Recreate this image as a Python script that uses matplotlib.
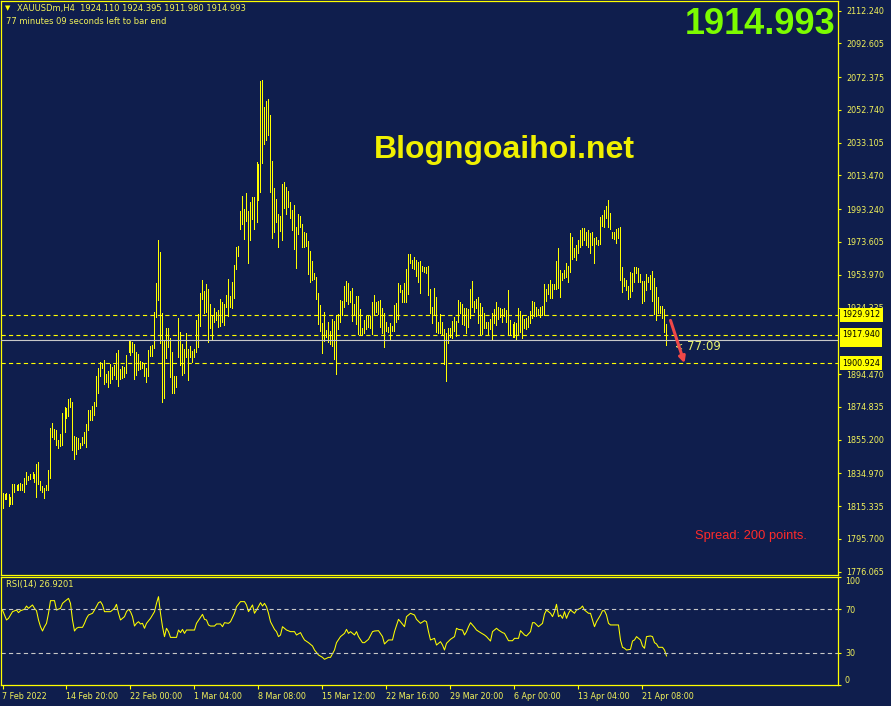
import matplotlib
matplotlib.use("Agg")
from matplotlib import pyplot as plt
from matplotlib import transforms
import numpy as np

# header / quote info
symbol = "XAUUSDm,H4"
ohlc = [1924.110, 1924.395, 1911.980, 1914.993]
bid = 1914.993
levels = [1929.912, 1917.940, 1900.924]
timer = "77:09"
spread = 200

# H4 bars, high / low per bar
highs = [
    1823.4, 1822.8, 1823.4, 1822.8, 1821.0, 1828.8, 1828.8, 1828.2, 1828.8, 1829.4,
    1828.8, 1832.4, 1836.0, 1833.6, 1834.8, 1836.0, 1834.8, 1840.8, 1842.0, 1830.6,
    1827.6, 1826.4, 1828.2, 1837.2, 1862.4, 1865.4, 1861.8, 1861.2, 1855.2, 1858.8,
    1871.4, 1874.4, 1873.8, 1879.2, 1879.8, 1877.4, 1857.6, 1857.0, 1856.4, 1853.4,
    1857.0, 1860.0, 1864.8, 1872.6, 1872.6, 1875.0, 1877.4, 1893.0, 1897.8, 1901.4,
    1900.8, 1902.6, 1894.2, 1896.0, 1900.2, 1898.4, 1899.6, 1906.8, 1908.6, 1897.2,
    1899.0, 1898.4, 1905.6, 1914.6, 1914.0, 1913.4, 1912.2, 1907.4, 1906.2, 1902.0,
    1901.4, 1900.2, 1897.8, 1908.6, 1911.0, 1911.6, 1931.4, 1948.8, 1974.6, 1967.4,
    1930.8, 1914.0, 1921.8, 1921.8, 1915.8, 1907.4, 1893.0, 1893.0, 1927.8, 1919.4,
    1912.2, 1909.2, 1918.8, 1909.2, 1911.0, 1908.0, 1909.2, 1926.6, 1930.2, 1942.8,
    1950.6, 1944.0, 1948.2, 1945.2, 1936.2, 1929.0, 1933.8, 1931.4, 1932.6, 1939.2,
    1937.4, 1936.2, 1941.6, 1951.2, 1941.0, 1949.4, 1959.6, 1970.4, 1971.0, 1992.0,
    2001.0, 1993.2, 2002.8, 1992.0, 1997.4, 2000.4, 2000.4, 2021.4, 2020.2, 2070.0,
    2070.6, 2054.4, 2058.0, 2059.2, 2049.6, 2022.0, 2005.8, 1999.2, 1990.2, 1989.0,
    2008.2, 2009.4, 2006.4, 2004.0, 1997.4, 1992.6, 1995.6, 1982.4, 1990.2, 1989.0,
    1984.2, 1979.4, 1978.8, 1974.0, 1968.0, 1962.0, 1954.8, 1952.4, 1942.8, 1935.6,
    1924.8, 1931.4, 1920.6, 1925.4, 1920.0, 1927.2, 1926.0, 1929.6, 1930.2, 1938.6,
    1938.0, 1947.0, 1950.0, 1948.8, 1944.0, 1945.8, 1936.2, 1941.0, 1941.0, 1933.2,
    1921.8, 1926.6, 1929.0, 1929.0, 1929.0, 1937.4, 1941.6, 1937.4, 1938.0, 1938.6,
    1933.8, 1930.8, 1925.4, 1922.4, 1924.8, 1923.0, 1935.6, 1936.8, 1948.8, 1947.6,
    1944.6, 1948.8, 1957.2, 1966.2, 1966.2, 1962.6, 1964.4, 1962.6, 1961.4, 1962.0,
    1959.0, 1958.4, 1958.4, 1959.0, 1945.2, 1934.4, 1945.8, 1940.4, 1925.4, 1930.2,
    1925.4, 1921.2, 1918.8, 1921.8, 1921.8, 1926.0, 1928.4, 1926.0, 1938.6, 1937.4,
    1936.2, 1933.8, 1933.8, 1933.2, 1945.2, 1950.0, 1938.0, 1939.2, 1940.4, 1936.8,
    1934.4, 1930.8, 1925.4, 1925.4, 1927.2, 1930.8, 1933.2, 1937.4, 1934.4, 1933.8,
    1933.2, 1933.8, 1932.6, 1944.6, 1926.6, 1924.2, 1925.4, 1924.8, 1933.8, 1932.0,
    1929.6, 1927.2, 1927.8, 1929.0, 1932.0, 1938.0, 1937.4, 1934.4, 1933.2, 1934.4,
    1935.0, 1948.2, 1945.2, 1948.2, 1950.6, 1948.2, 1948.2, 1962.0, 1969.8, 1956.6,
    1954.8, 1956.6, 1960.8, 1959.0, 1978.8, 1976.4, 1969.8, 1971.6, 1974.6, 1980.6,
    1981.8, 1981.8, 1979.4, 1980.6, 1978.8, 1979.4, 1975.8, 1976.4, 1974.6, 1988.4,
    1989.6, 1992.6, 1995.0, 1998.6, 1990.8, 1979.4, 1979.4, 1981.2, 1981.8, 1982.4,
    1958.4, 1951.8, 1950.6, 1947.0, 1955.4, 1954.8, 1958.4, 1958.4, 1957.8, 1954.2,
    1950.0, 1950.0, 1954.2, 1952.4, 1953.6, 1956.0, 1951.8, 1946.4, 1940.4, 1935.0,
    1935.0, 1933.2, 1924.395]

lows = [
    1814.4, 1819.8, 1819.8, 1815.6, 1816.8, 1816.8, 1824.0, 1825.2, 1825.2, 1825.2,
    1825.2, 1824.0, 1828.8, 1831.2, 1831.8, 1832.4, 1830.0, 1821.0, 1828.8, 1825.2,
    1824.0, 1820.4, 1825.2, 1825.2, 1832.4, 1857.0, 1855.8, 1852.2, 1850.4, 1851.6,
    1852.2, 1860.0, 1868.4, 1869.6, 1874.4, 1849.2, 1843.8, 1846.8, 1849.8, 1850.4,
    1852.2, 1853.4, 1851.0, 1861.2, 1867.2, 1867.2, 1870.2, 1875.0, 1882.8, 1893.0,
    1897.8, 1888.2, 1889.4, 1886.4, 1888.8, 1891.2, 1893.6, 1891.2, 1887.0, 1891.2,
    1891.8, 1892.4, 1894.8, 1907.4, 1905.6, 1907.4, 1891.2, 1893.6, 1896.6, 1897.2,
    1897.8, 1893.0, 1889.4, 1893.0, 1905.0, 1905.0, 1909.8, 1928.4, 1938.6, 1912.8,
    1877.4, 1879.8, 1903.8, 1910.4, 1892.4, 1882.8, 1882.8, 1886.4, 1904.4, 1899.6,
    1893.6, 1894.8, 1904.4, 1890.6, 1904.4, 1901.4, 1904.4, 1907.4, 1910.4, 1923.0,
    1939.2, 1930.8, 1931.4, 1913.4, 1921.8, 1915.2, 1925.4, 1926.6, 1922.4, 1923.0,
    1925.4, 1923.6, 1934.4, 1929.0, 1934.4, 1933.8, 1939.8, 1957.2, 1965.0, 1981.2,
    1984.2, 1975.2, 1986.0, 1960.8, 1974.6, 1987.2, 1981.2, 1985.4, 1998.6, 2003.4,
    2020.8, 2032.2, 2034.6, 2037.6, 2003.4, 1975.8, 1979.4, 1985.4, 1970.4, 1980.0,
    1974.6, 1993.8, 1990.2, 1994.4, 1987.8, 1980.6, 1969.2, 1957.8, 1978.2, 1982.4,
    1970.4, 1970.4, 1971.0, 1954.2, 1949.4, 1950.6, 1951.2, 1939.2, 1924.2, 1920.0,
    1906.8, 1914.0, 1916.4, 1913.4, 1912.2, 1911.0, 1903.2, 1894.2, 1921.2, 1925.4,
    1929.6, 1934.4, 1938.0, 1936.2, 1937.4, 1926.0, 1929.6, 1924.2, 1918.2, 1918.2,
    1918.2, 1918.8, 1921.2, 1922.4, 1921.8, 1918.2, 1929.6, 1931.4, 1930.2, 1922.4,
    1918.8, 1910.4, 1920.0, 1919.4, 1915.2, 1920.0, 1920.0, 1925.4, 1927.2, 1943.4,
    1937.4, 1937.4, 1937.4, 1942.2, 1960.8, 1957.8, 1957.2, 1953.0, 1949.4, 1942.8,
    1956.0, 1955.4, 1954.8, 1941.6, 1930.8, 1924.8, 1930.2, 1919.4, 1918.8, 1918.8,
    1917.6, 1900.2, 1890.0, 1912.8, 1916.4, 1915.8, 1920.0, 1917.0, 1925.4, 1930.8,
    1924.2, 1923.6, 1918.8, 1922.4, 1927.8, 1934.4, 1931.4, 1933.8, 1924.8, 1918.2,
    1918.2, 1921.8, 1921.8, 1918.2, 1921.2, 1915.2, 1924.8, 1923.6, 1927.2, 1928.4,
    1925.4, 1929.0, 1925.4, 1918.2, 1918.2, 1916.4, 1916.4, 1915.2, 1918.2, 1919.4,
    1915.8, 1921.8, 1921.2, 1922.4, 1924.8, 1927.8, 1929.0, 1929.0, 1929.6, 1928.4,
    1929.6, 1929.6, 1938.0, 1942.2, 1939.8, 1939.8, 1945.2, 1945.2, 1945.8, 1940.4,
    1950.6, 1951.8, 1952.4, 1949.4, 1955.4, 1963.2, 1964.4, 1962.6, 1966.8, 1970.4,
    1971.6, 1974.6, 1971.6, 1970.4, 1966.8, 1971.6, 1960.8, 1972.2, 1971.6, 1972.2,
    1983.0, 1982.4, 1987.8, 1982.4, 1981.2, 1975.8, 1975.2, 1972.8, 1975.8, 1950.6,
    1943.4, 1947.0, 1944.6, 1939.2, 1940.4, 1944.0, 1949.4, 1954.8, 1949.4, 1949.4,
    1936.8, 1938.0, 1944.6, 1949.4, 1945.2, 1938.0, 1930.2, 1926.6, 1930.8, 1930.8,
    1927.8, 1919.4, 1911.98]

# RSI(14) readings (bar number, value)
rsi_bar = [1, 3, 4, 6, 8, 9, 10, 12, 13, 14,
           16, 17, 18, 19, 20, 21, 22, 23, 24, 25,
           27, 28, 30, 31, 32, 34, 35, 36, 37, 38,
           39, 41, 42, 43, 44, 46, 47, 49, 50, 51,
           52, 54, 55, 57, 58, 59, 60, 62, 63, 64,
           65, 66, 67, 68, 69, 70, 71, 72, 73, 75,
           77, 78, 79, 80, 81, 82, 83, 84, 85, 87,
           88, 89, 90, 91, 92, 93, 95, 97, 98, 100,
           101, 102, 103, 104, 105, 107, 108, 110, 111, 112,
           114, 115, 117, 118, 120, 122, 123, 124, 125, 126,
           127, 128, 130, 131, 132, 133, 134, 135, 137, 138,
           139, 140, 141, 143, 145, 147, 148, 150, 151, 152,
           154, 156, 157, 159, 161, 162, 164, 165, 167, 168,
           170, 172, 173, 174, 175, 177, 178, 179, 181, 182,
           184, 186, 187, 189, 191, 192, 194, 196, 197, 199,
           200, 202, 203, 205, 207, 208, 210, 212, 213, 214,
           215, 217, 218, 220, 221, 222, 223, 225, 227, 228,
           229, 231, 232, 233, 234, 235, 237, 238, 240, 242,
           243, 245, 246, 248, 249, 251, 252, 254, 256, 257,
           259, 260, 262, 263, 265, 266, 267, 269, 271, 272,
           273, 275, 276, 277, 278, 279, 280, 281, 282, 283,
           284, 285, 287, 288, 290, 291, 292, 293, 294, 295,
           296, 297, 298, 300, 301, 302, 303, 304, 305, 307,
           308, 309, 310, 311, 312, 313, 315, 316, 317, 318,
           320, 321, 322, 323, 325, 326, 327, 328, 329, 331,
           332, 333]
rsi_val = [69.4, 60.2, 61.7, 67.9, 69.4, 67.0, 68.8, 70.1, 73.1, 71.0,
           74.1, 71.0, 68.8, 60.2, 54.0, 50.0, 54.0, 57.1, 66.4, 78.1,
           78.1, 69.4, 71.0, 75.6, 77.2, 80.2, 75.6, 60.2, 50.0, 52.5,
           53.4, 53.4, 57.1, 61.7, 64.8, 66.4, 69.4, 76.2, 77.2, 74.1,
           67.9, 67.9, 67.9, 71.0, 74.7, 66.4, 60.2, 63.3, 67.9, 70.1,
           67.9, 63.3, 54.6, 57.1, 58.6, 56.5, 57.1, 52.5, 57.1, 61.7,
           67.9, 75.6, 81.8, 66.4, 54.0, 44.8, 52.5, 49.4, 44.1, 44.1,
           44.1, 50.9, 48.5, 51.5, 47.8, 50.9, 50.9, 50.9, 57.1, 62.7,
           65.4, 60.8, 60.2, 55.6, 54.6, 54.6, 56.5, 56.5, 54.0, 57.7,
           57.1, 58.6, 66.4, 72.5, 77.2, 77.2, 74.1, 67.9, 71.0, 74.1,
           66.4, 69.4, 76.2, 73.1, 75.6, 72.5, 66.4, 58.6, 51.5, 49.4,
           44.8, 46.3, 54.0, 50.9, 49.4, 49.4, 46.3, 48.5, 44.8, 41.7,
           39.2, 36.1, 32.4, 27.8, 25.6, 23.8, 25.6, 25.6, 32.4, 39.2,
           44.8, 47.8, 51.5, 47.8, 49.4, 46.3, 49.4, 44.8, 39.2, 39.2,
           42.3, 49.4, 50.0, 50.3, 44.8, 38.0, 41.7, 41.7, 49.4, 60.8,
           58.6, 54.0, 63.3, 66.4, 64.8, 60.8, 57.1, 59.6, 58.6, 49.4,
           41.7, 43.2, 37.0, 40.1, 37.0, 32.4, 38.6, 42.3, 44.8, 52.5,
           51.5, 50.9, 46.3, 49.4, 54.0, 57.7, 53.4, 50.9, 48.5, 46.3,
           44.8, 40.7, 49.4, 52.5, 50.9, 48.5, 47.8, 41.0, 41.0, 43.2,
           43.2, 50.3, 46.3, 45.4, 49.4, 57.7, 57.7, 54.0, 57.1, 65.7,
           69.4, 66.4, 63.3, 67.9, 74.7, 63.3, 64.8, 61.7, 67.9, 61.7,
           66.4, 69.4, 66.4, 69.4, 71.0, 73.1, 69.4, 67.9, 66.4, 66.4,
           60.2, 54.0, 58.6, 64.8, 68.8, 68.8, 64.8, 57.1, 55.6, 55.6,
           55.6, 55.6, 41.7, 34.9, 34.0, 32.4, 33.0, 40.7, 41.7, 44.8,
           41.7, 36.1, 34.0, 44.8, 45.4, 44.8, 39.2, 38.0, 34.9, 34.9,
           32.4, 26.9201]
rsi_levels = [70, 30]

price_ticks = [2112.240, 2092.605, 2072.375, 2052.740, 2033.105, 2013.470,
               1993.240, 1973.605, 1953.970, 1934.335, 1894.470, 1874.835,
               1855.200, 1834.970, 1815.335, 1795.700, 1776.065]
date_labels = ["7 Feb 2022", "14 Feb 20:00", "22 Feb 00:00", "1 Mar 04:00",
               "8 Mar 08:00", "15 Mar 12:00", "22 Mar 16:00", "29 Mar 20:00",
               "6 Apr 00:00", "13 Apr 04:00", "21 Apr 08:00"]
date_bars = [1, 33, 65, 97, 129, 161, 193, 225, 257, 289, 321]

bg = "#0f1e4d"
yel = "#ffff00"
txt = "#f2f25a"
W, H = 891, 706

fig = plt.figure(figsize=(W / 100, H / 100), dpi=100, facecolor=bg)
ax = fig.add_axes([1 / W, 131 / H, 837 / W, 574 / H], facecolor=bg)
ax2 = fig.add_axes([1 / W, 21 / H, 837 / W, 108 / H], facecolor=bg)

for a in (ax, ax2):
    for s in a.spines.values():
        s.set_color(yel)
        s.set_linewidth(0.9)
    a.set_xlim(0.25, 418.75)

# price bars, 1px wide
bars = np.arange(1, len(highs) + 1)
ax.vlines(bars, lows, highs, color=yel, lw=0.5, antialiased=False, zorder=2)
ax.set_ylim(1774.0, 2118.05)

for lv in levels:
    ax.axhline(lv, color=yel, lw=0.8, ls=(0, (3.8, 2.9)), zorder=3)
ax.axhline(bid, color="#c8c8c8", lw=0.8, zorder=3)

ax.set_xticks([])
ax.yaxis.tick_right()
ax.set_yticks(price_ticks)
ax.set_yticklabels(["%.3f" % p for p in price_ticks])
ax.tick_params(axis="y", colors=yel, labelcolor=txt, length=2, width=0.8,
               pad=4, labelsize=5.8)

# price label boxes on the right scale
blend = transforms.blended_transform_factory(ax.transAxes, ax.transData)
for val, z in [(bid, 5), (levels[0], 6), (levels[1], 6), (levels[2], 6)]:
    ax.text(1.0 + 4 / 837, val, "%.3f" % val, transform=blend, ha="left",
            va="center", fontsize=5.8, color="black", clip_on=False, zorder=z,
            bbox=dict(boxstyle="square,pad=0.3", fc=yel, ec="none"))

# arrow + countdown
ax.annotate("", xy=(342, levels[2]), xytext=(335, 1926.6),
            arrowprops=dict(arrowstyle="-|>", color="#f04848", lw=2.2,
                            mutation_scale=9, shrinkA=0, shrinkB=0), zorder=7)
ax.text(337.5, 1911.0, "<", fontsize=7, color="#e6f06e", va="center",
        ha="left", zorder=4)
ax.text(343.5, 1911.0, timer, fontsize=8.5, color="#e6f06e", va="center",
        ha="left", zorder=4)

# RSI window
ax2.plot(rsi_bar, rsi_val, color=yel, lw=0.75)
for lv in rsi_levels:
    ax2.axhline(lv, color="#c8c8c8", lw=0.8, ls=(0, (3.8, 2.9)))
ax2.set_ylim(0, 100)
ax2.yaxis.tick_right()
ax2.set_yticks([100, 70, 30, 0])
ax2.set_yticklabels(["100", "70", "30", "0"])
ax2.tick_params(axis="y", colors=yel, labelcolor=txt, length=2, width=0.8,
                pad=3, labelsize=5.8)
ylabs = ax2.get_yticklabels()
ylabs[0].set_va("top")
ylabs[3].set_va("bottom")

ax2.set_xticks(date_bars)
ax2.set_xticklabels(date_labels, ha="left")
ax2.tick_params(axis="x", colors=yel, labelcolor=txt, length=3, width=0.8,
                pad=2, labelsize=5.8)

# texts
fig.text(8 / W, 1 - 8 / H, "\u25bc", color=yel, fontsize=5, ha="center", va="center")
fig.text(17 / W, 1 - 8 / H, "%s  %.3f %.3f %.3f %.3f" % (symbol, *ohlc),
         color=txt, fontsize=6, ha="left", va="center")
mm, ss = timer.split(":")
fig.text(6 / W, 1 - 22 / H, "%s minutes %s seconds left to bar end" % (mm, ss),
         color=txt, fontsize=6, ha="left", va="center")
fig.text(6 / W, 1 - 584 / H, "RSI(14) %.4f" % rsi_val[-1],
         color=txt, fontsize=6, ha="left", va="center")
fig.text(835 / W, 1 - 24 / H, "%.3f" % bid, color="#7cfc00", fontsize=26,
         fontweight="bold", family="Liberation Sans", ha="right", va="center")
fig.text(504 / W, 1 - 150 / H, "Blogngoaihoi.net", color="#f0f000", fontsize=23,
         fontweight="bold", family="Liberation Sans", ha="center", va="center")
fig.text(695 / W, 1 - 536 / H, "Spread: %d points." % spread, color="#ff2a2a",
         fontsize=9.3, family="Liberation Sans", ha="left", va="center")

fig.savefig("out.png", dpi=100, facecolor=bg)
